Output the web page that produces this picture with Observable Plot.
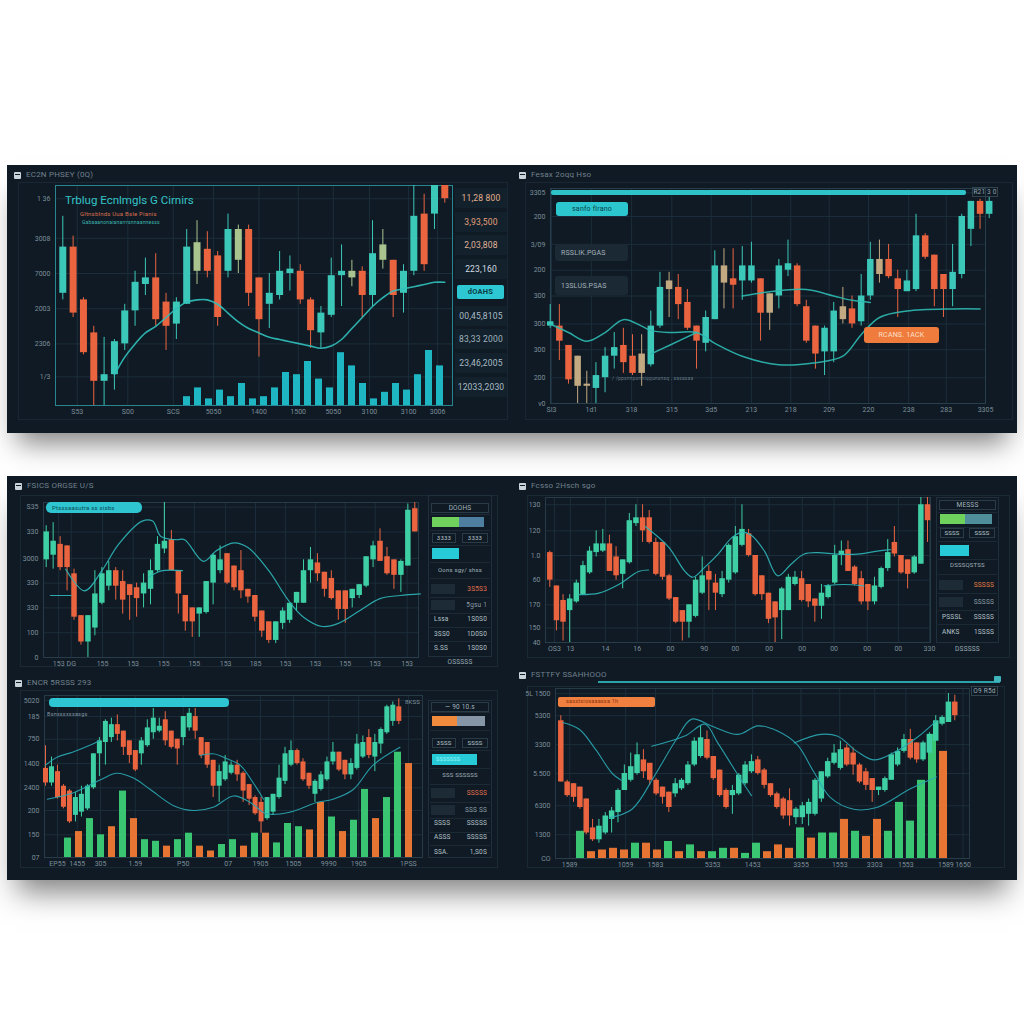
<!DOCTYPE html>
<html><head><meta charset="utf-8">
<script src="https://cdn.jsdelivr.net/npm/d3@7"></script>
<script src="https://cdn.jsdelivr.net/npm/@observablehq/plot@0.6"></script>
<style>
html,body{margin:0;padding:0;background:#fff;}
#page{position:relative;width:1024px;height:1024px;overflow:hidden;background:#fff;font-family:Roboto,"Noto Sans",sans-serif;}
</style></head><body><div id="page"></div>
<script>
// ================= DATA =================
// candles: [open, close, high, low]
const candlesA = [[51,72,86,48],[72,42,77,40],[48,24,49,23],[33,11,36,0],[11,14,31,0],[14,29,30,7],[28,43,46,25],[43,56,61,36],[55,58,67,50],[58,39,69,36],[47,36,51,25],[37,47,49,30],[46,72,80,46],[61,74,84,55],[71,61,79,58],[68,40,70,36],[61,80,87,58],[66,80,82,60],[80,51,82,45],[58,39,58,22],[46,51,60,35],[50,61,70,48],[60,62,68,52],[61,48,64,46],[48,34,49,26],[33,42,45,26],[41,59,67,40],[59,61,73,45],[58,61,66,54],[61,50,63,40],[50,69,84,45],[66,73,80,62],[66,50,66,40],[51,61,64,42],[61,86,100,59],[87,64,96,61],[87,100,100,80],[100,94,100,92]];
const neutralA = [14,18,29,32];
const volumeA = [4,8,3,7,4,10,3,4,8,15,14,20,12,8,24,18,10,3,6,10,7,14,25,18];
const maA = [[6,14],[7,22],[8,28],[9,33],[10,36],[11,40],[12,44],[13,47],[14,48],[15,48],[16,46],[17,42],[18,38],[19,35],[20,33],[21,31],[22,30],[23,29],[24,28],[25,27],[26,26],[27,27],[28,30],[29,35],[30,40],[31,45],[32,49],[33,52],[34,53],[35,54],[36,55],[37,56],[38,56]];
const yTicksA = [94,76,60,44,28,13];
const yLabelsA = ["1 36","3008","7000","2003","2306","1/3"];
const xTicksA = [2.4,7.3,11.7,15.6,20,23.8,27.2,30.7,34.5,37.3];
const xLabelsA = ["S53","S00","SCS","5050","1400","1500","5050","3100","3100","3006"];
const sideValuesA = ["11,28 800","3,93,500","2,03,808","223,160","dOAHS","00,45,8105","83,33 2000","23,46,2005","12033,2030"];

const candlesB = [[36,38,46,35],[36,29,46,20],[27,11,27,9],[8,22,22,0],[8,9,15,0],[7,13,19,0],[12,22,26,5],[22,26,33,16],[27,19,35,14],[22,14,32,13],[14,23,32,8],[18,36,43,17],[36,54,61,35],[53,57,61,40],[54,46,60,39],[47,35,53,34],[36,29,36,16],[28,40,43,24],[39,64,71,39],[64,56,72,44],[58,55,72,44],[57,64,73,48],[57,64,75,56],[58,42,58,29],[51,42,51,34],[50,64,67,44],[62,65,76,59],[64,46,65,45],[45,29,48,28],[36,23,36,16],[24,35,36,13],[24,43,47,19],[39,45,54,37],[44,37,50,35],[38,50,60,36],[50,67,75,48],[60,67,76,56],[67,59,74,58],[58,53,62,40],[52,57,62,52],[53,78,88,52],[78,68,79,67],[69,53,69,45],[60,53,60,40],[53,61,74,45],[60,87,88,58],[81,94,94,73],[94,88,95,81],[88,94,96,86]];
const neutralB = [4,5,11,14,20,25,33,37];
const maB1 = [[1,37],[3,33],[5,29],[7,33],[9,39],[11,36],[12,34],[14,33],[17,33],[19,28],[22,22],[26,18],[30,19],[33,22],[35,32],[37,40],[40,43],[45,44],[48,44]];
const maB2 = [[22,50],[25,52],[29,53],[32,50],[34,48],[36,47]];
const maB3 = [[12,23],[14,27],[17,33]];
const yTicksB = [98,87,74,62,50,37,25,12,0];
const yLabelsB = ["3305","200","3/09","200","300","300","300","200","v0"];
const xTicksB = [1.14,5.5,9.9,14.3,18.6,23,27.3,31.5,35.8,40.2,44.3,48.6];
const xLabelsB = ["SI3","1d1","318","315","3d5","213","218","209","220","238","283","3305"];

const candlesC = [[63,81,85,58],[66,75,87,57],[73,58,78,56],[72,58,72,43],[54,26,57,24],[27,10,27,8],[10,27,27,0],[19,41,56,14],[35,54,58,34],[46,56,62,43],[56,46,58,37],[49,37,56,28],[47,40,47,24],[45,38,48,26],[41,48,54,32],[44,56,63,34],[56,73,78,55],[70,75,100,67],[76,56,82,56],[56,41,56,28],[40,23,40,17],[32,23,32,13],[28,32,32,13],[29,49,49,28],[48,66,67,34],[56,63,72,54],[67,48,67,47],[59,45,59,43],[56,43,69,38],[44,39,44,35],[40,26,40,23],[30,17,30,13],[23,11,23,9],[11,23,23,9],[22,30,32,18],[24,35,35,22],[35,42,42,30],[35,56,63,35],[56,63,71,48],[61,54,67,49],[55,44,55,39],[51,38,56,37],[43,31,43,24],[43,31,43,22],[38,44,44,32],[40,47,47,38],[46,65,65,45],[63,72,75,58],[75,62,83,62],[65,54,71,53],[63,53,63,44],[53,62,63,42],[59,95,99,59],[96,81,100,81]];
const maC1 = [[3.8,57],[6.5,43],[9,56],[11.4,73],[14.8,88],[16.3,88],[17.5,78],[19.7,76],[20.9,76],[23.6,62],[25.5,69],[28,74],[30,71],[33,56],[35.8,37],[38,26],[40.7,20],[43,22],[46,30],[49,38],[51.9,40],[54.8,41]];
const maC2 = [[1.6,40],[4.6,40]];
const maC3 = [[15.8,52],[17.7,56],[20.6,56]];
const yTicksC = [97,81,64,48,32,16,0];
const yLabelsC = ["S35","330","3000","330","330","100","0"];
const xTicksC = [2.8,4.6,9.1,13.5,17.9,22.3,26.8,31.1,35.4,39.7,44,48.3,52.9];
const xLabelsC = ["153","DG","155","153","155","155","153","185","153","153","155","153","153"];

const candlesD = [[62,43,63,38],[39,15,39,8],[29,14,33,1],[22,30,33,0],[28,41,43,27],[33,53,56,33],[48,63,66,47],[62,68,77,59],[63,68,78,62],[68,49,74,49],[59,46,66,43],[47,57,57,37],[55,84,89,54],[82,86,95,80],[86,77,95,69],[86,69,91,68],[69,47,72,46],[69,45,69,43],[46,30,47,29],[31,14,31,13],[22,14,22,1],[14,26,26,3],[18,43,45,17],[34,46,59,33],[49,43,53,22],[41,34,47,22],[33,44,49,31],[43,67,68,41],[48,73,80,47],[67,78,95,66],[75,60,78,59],[60,33,60,32],[46,33,46,29],[34,16,34,13],[28,17,28,0],[22,37,38,2],[22,45,47,22],[40,45,49,39],[44,29,49,28],[40,28,40,24],[30,25,30,14],[25,34,40,16],[31,39,40,30],[41,60,67,40],[60,63,70,53],[64,49,70,49],[52,40,53,39],[44,28,49,26],[40,28,40,22],[28,39,45,26],[38,51,52,37],[51,62,71,49],[69,61,80,59],[60,48,60,47],[57,47,57,37],[48,59,60,47],[54,95,100,54],[95,84,100,69]];
const maD1 = [[15.4,80],[18.9,66],[21.4,49],[22.6,45],[24.4,52],[26.4,61],[28.4,72],[29.9,76],[31.4,74],[33.4,63],[35.4,46],[37.4,54],[39.4,61],[41.4,62],[44.4,61],[47.4,61],[50.4,63],[52.4,64]];
const maD2 = [[5.4,33],[8.4,34],[11.4,40],[14.4,49],[15.9,50]];
const maD3 = [[42.4,39],[45.4,40],[48.4,39]];
const yTicksD = [95,77,60,43,26,10,0];
const yLabelsD = ["130","120","1.0","60","170","150","40"];
const xTicksD = [1.7,4.1,9.4,14.2,19.2,24.3,29,34.1,39.1,43.9,48.9,53.6,58.3];
const xLabelsD = ["OS3","13","14","16","00","90","00","00","00","00","00","00","330"];

const candlesE = [[55,46,69,44],[46,56,62,44],[53,37,57,36],[44,31,45,30],[41,22,42,21],[26,37,40,22],[28,39,44,25],[30,44,45,29],[43,64,64,42],[64,72,74,50],[71,84,85,57],[74,82,86,71],[82,76,88,72],[78,68,78,63],[72,63,72,58],[66,54,66,53],[64,72,74,57],[69,80,85,68],[77,86,92,73],[78,81,86,77],[85,72,90,69],[78,68,78,67],[73,67,73,57],[74,87,87,69],[80,89,92,78],[87,78,92,73],[74,63,74,61],[71,57,71,55],[60,44,60,37],[44,53,57,34],[48,59,63,47],[52,57,59,51],[57,51,60,47],[52,41,53,34],[45,36,45,32],[37,27,38,26],[34,22,37,15],[24,37,37,23],[28,39,39,26],[37,49,57,36],[47,64,68,45],[57,66,72,56],[66,58,67,57],[59,48,61,47],[52,44,52,42],[39,47,48,34],[42,51,53,41],[48,59,62,47],[59,65,71,57],[65,54,65,53],[60,51,60,48],[51,58,61,48],[55,70,76,54],[62,71,75,61],[74,63,79,61],[62,71,76,53],[70,79,80,64],[77,93,94,76],[84,94,96,81],[93,84,98,82]];
const volumeE = [12,16,24,14,19,41,24,11,10,7,11,15,7,4,8,11,7,15,15,9,21,19,17,34,25,16,23,42,24,37,65,58];
const volumeKindE = ["g","o","g","g","o","g","o","g","g","o","g","g","o","o","g","g","o","g","o","g","g","g","o","o","g","o","g","g","o","g","g","o"];
const maE1 = [[1,57],[3,62],[5.5,65],[8.9,70],[10,72]];
const maE2 = [[1.3,36],[5.7,40],[10.2,48],[12.9,52],[15.7,49],[18.5,42],[22.4,32],[25.7,29],[29,31],[32.4,38],[35.2,34],[37.9,27],[41.8,28],[46.3,34],[49,36],[52.4,42],[55.7,57],[60.2,68]];
const maE3 = [[26.8,63],[29,64],[31.3,61],[33.5,57],[35.7,46],[37.4,36]];
const yTicksE = [97,87,73,58,43,29,14,0];
const yLabelsE = ["5020","185","750","1400","2400","200","150","07"];
const xTicksE = [3,6.3,10.2,16,24,31.5,36.9,42.4,48.3,53.3,61.6];
const xLabelsE = ["EP55","1455","305","1.59","P50","07","1905","1505","9990","1905","1PSS"];

const candlesF = [[81,45,84,45],[45,37,46,36],[44,36,44,33],[42,30,42,29],[35,15,35,14],[18,11,23,10],[11,19,23,9],[15,25,27,14],[23,28,30,15],[27,40,41,21],[40,50,55,40],[46,54,62,45],[50,61,68,49],[58,51,64,47],[56,46,56,43],[46,38,47,37],[42,36,42,32],[39,30,39,27],[38,44,47,36],[41,46,47,40],[44,55,57,43],[55,69,71,54],[60,71,78,59],[70,59,75,58],[60,47,60,46],[52,37,52,36],[40,30,41,29],[37,40,43,26],[38,49,50,37],[44,55,57,43],[51,57,61,50],[58,50,60,49],[52,43,53,41],[44,37,44,36],[38,30,39,29],[35,25,36,23],[34,25,41,19],[24,29,30,20],[24,31,33,20],[26,33,35,19],[26,46,47,25],[35,51,51,33],[48,57,59,47],[56,62,67,55],[53,64,69,52],[65,55,67,54],[62,55,65,49],[55,45,56,44],[51,43,53,40],[47,40,47,33],[40,42,42,37],[40,47,48,39],[46,61,62,46],[55,63,65,54],[63,70,73,62],[70,59,76,58],[68,58,68,56],[58,68,69,57],[62,73,74,61],[69,81,84,69],[79,83,84,78],[80,92,97,80],[92,84,96,81]];
const volumeF = [16,4,5,6,5,9,9,5,10,4,8,4,4,6,6,3,9,4,8,6,18,12,15,15,23,16,13,23,16,33,22,46,73,63];
const volumeKindF = ["g","o","o","o","o","g","o","o","g","o","g","o","g","g","o","g","g","o","o","o","g","o","g","g","o","g","o","o","g","g","g","g","g","o"];
const maF1 = [[1.3,80],[3.9,76],[6.5,64],[9.1,50],[10.5,46]];
const maF2 = [[8.6,24],[12.2,29],[15.8,49],[19,69],[21.6,82],[24.7,78],[28.9,73],[32,78],[35.1,75],[38.2,67],[40.8,51],[43.4,36],[47.1,29],[50.7,30],[56,41],[60.1,48]];
const maF3 = [[15.3,66],[20.5,72],[23.7,79],[25.7,68],[28.9,49],[31,37]];
const maF4 = [[37.7,68],[41.9,73],[44.5,72],[47.6,63],[50.2,58],[53.3,62],[57,71],[60.1,81]];
const yTicksF = [97,84,67,50,31,14,0];
const yLabelsF = ["5L 1500","5300","3300","5.500","6300","1300","CO"];
const xTicksF = [2.4,11.2,15.9,24.9,31.2,38.8,44.9,50.4,55.3,61.6,64.3];
const xLabelsF = ["1589","1059","1583","5353","1453","3355","1553","3303","1553","1589","1650"];

// ================= HELPERS =================
const page = document.getElementById("page");
function box(x, y, w, h, css = {}, parent = page) {
  const e = document.createElement("div");
  Object.assign(e.style, {position: "absolute", left: x + "px", top: y + "px", width: w + "px", height: h + "px", boxSizing: "border-box"}, css);
  parent.appendChild(e);
  return e;
}
function txt(x, y, s, css = {}, align = "left") {
  const e = document.createElement("div");
  const tr = align === "center" ? "translate(-50%,-50%)" : align === "right" ? "translate(-100%,-50%)" : "translateY(-50%)";
  Object.assign(e.style, {position: "absolute", left: x + "px", top: y + "px", whiteSpace: "nowrap", lineHeight: "1", transform: tr, fontSize: "7px", color: "#8a9ba7", letterSpacing: "0.2px"}, css);
  e.textContent = s;
  page.appendChild(e);
  return e;
}
function place(node, x, y) {
  node.style.position = "absolute";
  node.style.left = x + "px";
  node.style.top = y + "px";
  page.appendChild(node);
}
function title(ix, iy, s) {
  box(ix, iy - 3, 7, 7, {background: "#c9d3da", borderRadius: "1px"});
  box(ix + 1, iy - 1, 5, 1, {background: "#0f1a24"});
  txt(ix + 12, iy, s, {fontSize: "8px", color: "#6f808c"});
}

const UP = "#3ecfa4", UPT = "#3cc8b9", DN = "#ea6440";

function drawPanel(P) {
  const L = P.L;
  const n = P.candles.length;
  const rows = P.candles.map((c, k) => ({i: k + 1, o: c[0], c: c[1], h: c[2], l: c[3]}));
  const col = r => (P.neutral && P.neutral.includes(r.i)) ? L.neutral : (r.c >= r.o ? L.up : L.down);
  const k = (L.xn - L.x1) / (n - 1);
  const dom = [1 - (L.x1 - L.fl) / k, n + (L.fr - L.xn) / k];
  const sx = L.fl - 44, sy = L.ft - 8, sw = L.fr - sx + 16, sh = L.fb - sy + 18;
  const dims = {width: sw, height: sh, marginLeft: L.fl - sx, marginRight: sx + sw - L.fr, marginTop: L.ft - sy, marginBottom: sy + sh - L.fb};
  const style = {background: "transparent", color: "#7d8e9a", fontSize: "7px", fontFamily: "Roboto, sans-serif", overflow: "visible"};
  const yMap = new Map(P.yTicks.map((v, j) => [v, P.yLabels[j]]));
  const xMap = new Map(P.xTicks.map((v, j) => [v, P.xLabels[j]]));
  // layer 1: grid + axes
  const base = Plot.plot({
    ...dims, style,
    x: {domain: dom, ticks: P.xTicks, tickFormat: v => xMap.get(v) ?? "", tickSize: 0, tickPadding: 4, label: null},
    y: {domain: [0, 100], ticks: P.yTicks, tickFormat: v => yMap.get(v) ?? "", tickSize: 0, tickPadding: 5, label: null},
    marks: [
      Plot.ruleX(P.xTicks, {stroke: "#1c2e3b", strokeWidth: 1}),
      Plot.ruleY(P.yTicks, {stroke: "#1c2e3b", strokeWidth: 1}),
      Plot.frame({stroke: L.frame, strokeOpacity: L.frameOp})
    ]
  });
  place(base, sx, sy);
  // layer 2: volume
  if (P.vol) {
    const nv = P.vol.length, V = L.vol;
    const s = (V.cn - V.c1) / (nv - 1), p = 1 - V.w / s;
    const r0 = V.c1 - s * (1 + p) / 2 - sx, r1 = V.cn + s * (1 + p) / 2 - sx;
    const vrows = P.vol.map((v, j) => ({j, v, c: P.volKind ? (P.volKind[j] === "g" ? "#3dcf78" : "#f27a36") : L.volColor}));
    const vp = Plot.plot({
      ...dims, style,
      color: {type: "identity"},
      x: {type: "band", domain: d3.range(nv), range: [r0, r1], padding: p, axis: null},
      y: {domain: [0, 100], axis: null},
      marks: [Plot.barY(vrows, {x: "j", y: "v", fill: "c", fillOpacity: 0.95})]
    });
    place(vp, sx, sy);
  }
  // layer 3: candles + moving averages
  const marks = [
    Plot.ruleX(rows, {x: "i", y1: "l", y2: "h", stroke: col, strokeWidth: 1}),
    Plot.ruleX(rows, {x: "i", y1: "o", y2: "c", stroke: col, strokeWidth: L.bw})
  ];
  for (const m of P.mas) marks.push(Plot.line(m, {x: q => q[0], y: q => q[1], curve: "catmull-rom", stroke: L.ma, strokeWidth: L.maW, strokeOpacity: 0.9}));
  const cp = Plot.plot({
    ...dims, style,
    color: {type: "identity"},
    x: {domain: dom, axis: null},
    y: {domain: [0, 100], axis: null},
    marks
  });
  place(cp, sx, sy);
}

// ================= BANNERS =================
box(7, 165, 1010, 268, {background: "#0f1a24", boxShadow: "0 20px 26px -10px rgba(0,0,0,0.5)"});
box(7, 476, 1010, 404, {background: "#0f1a24", boxShadow: "0 22px 28px -10px rgba(0,0,0,0.5)"});
// panel outlines
box(18, 182, 490, 238, {border: "1px solid #182733"});
box(525, 182, 488, 238, {border: "1px solid #182733"});
box(20, 495, 478, 172, {border: "1px solid #1a2a35"});
box(527, 495, 483, 163, {border: "1px solid #1a2a35"});
box(20, 690, 478, 178, {border: "1px solid #1a2a35"});
box(527, 686, 478, 182, {border: "1px solid #1a2a35"});

title(14, 175, "EC2N PHSEY (0Q)");
title(519, 175, "Fesax 2oqq Hso");
title(15, 486, "FSICS ORGSE U/S");
title(519, 486, "Fcsso 2Hsch sgo");
title(15, 683, "ENCR 5RSSS 293");
title(519, 675, "FSTTFY SSAHHOOO");

// ================= PANELS =================
drawPanel({candles: candlesA, neutral: neutralA, vol: volumeA, mas: [maA], yTicks: yTicksA, yLabels: yLabelsA, xTicks: xTicksA, xLabels: xLabelsA,
  L: {fl: 55, fr: 452, ft: 185, fb: 405, x1: 62.3, xn: 444.3, bw: 7, up: UPT, down: DN, neutral: "#a9c48e", ma: "#31c0bb", maW: 1.6, frame: "#2b9aa3", frameOp: 0.85, volColor: "#1fbfcb", vol: {c1: 182.7, cn: 444, w: 7}}});
drawPanel({candles: candlesB, neutral: neutralB, mas: [maB1, maB2, maB3], yTicks: yTicksB, yLabels: yLabelsB, xTicks: xTicksB, xLabels: xLabelsB,
  L: {fl: 550, fr: 985, ft: 188, fb: 403, x1: 549.7, xn: 988.7, bw: 6.5, up: UPT, down: DN, neutral: "#c2a982", ma: "#2fbab3", maW: 1.5, frame: "#2a4150", frameOp: 0.9}});
drawPanel({candles: candlesC, mas: [maC1, maC2, maC3], yTicks: yTicksC, yLabels: yLabelsC, xTicks: xTicksC, xLabels: xLabelsC,
  L: {fl: 43, fr: 418, ft: 502, fb: 657, x1: 45.7, xn: 414.3, bw: 5.5, up: UP, down: DN, ma: "#2fb6b8", maW: 1.2, frame: "#2a3e4b", frameOp: 0.9}});
drawPanel({candles: candlesD, mas: [maD1, maD2, maD3], yTicks: yTicksD, yLabels: yLabelsD, xTicks: xTicksD, xLabels: xLabelsD,
  L: {fl: 545, fr: 930, ft: 497, fb: 642, x1: 549.3, xn: 927, bw: 5.5, up: UP, down: DN, ma: "#2fb6b8", maW: 1.2, frame: "#2a3e4b", frameOp: 0.9}});
drawPanel({candles: candlesE, vol: volumeE, volKind: volumeKindE, mas: [maE1, maE2, maE3], yTicks: yTicksE, yLabels: yLabelsE, xTicks: xTicksE, xLabels: xLabelsE,
  L: {fl: 44, fr: 422, ft: 695, fb: 857, x1: 45, xn: 398.3, bw: 5, up: UP, down: DN, ma: "#2aa9b4", maW: 1.1, frame: "#2a3e4b", frameOp: 0.9, vol: {c1: 60, cn: 415.7, w: 7.3}}});
drawPanel({candles: candlesF, vol: volumeF, volKind: volumeKindF, mas: [maF1, maF2, maF3, maF4], yTicks: yTicksF, yLabels: yLabelsF, xTicks: xTicksF, xLabels: xLabelsF,
  L: {fl: 555, fr: 969, ft: 688, fb: 858, x1: 560.3, xn: 954.3, bw: 5.5, up: UP, down: DN, ma: "#2aa9b4", maW: 1.1, frame: "#2a3e4b", frameOp: 0.9, vol: {c1: 566, cn: 958, w: 9}}});

// ================= DECORATIONS =================
// Panel A inner title
txt(65, 201, "Trblug  Ecnlmgls G Cirnirs", {fontSize: "11.5px", color: "#34c3c6", letterSpacing: "0px"});
txt(80, 214, "Gltnsblnds  Uua   BsIe Pianis", {fontSize: "6px", color: "#d9704f"});
txt(82, 222, "Gabaaanonaianarrrsnnaannesss", {fontSize: "5px", color: "#3cb5ad"});
// Panel A side values
const sideYA = [198, 222, 245, 269, 292, 316, 339, 363, 387];
const sideColA = ["#e3b08c", "#e5a07a", "#e0b49a", "#d5dde2", "#0b3b45", "#a9bcc6", "#9fb4bf", "#a9bcc6", "#a9bcc6"];
sideValuesA.forEach((s, j) => {
  const y = sideYA[j];
  if (j === 4) {
    box(457, y - 7, 47, 14, {background: "#2cc7d2", borderRadius: "2px"});
    txt(480.5, y, s, {fontSize: "7.5px", color: sideColA[j], fontWeight: "bold"}, "center");
  } else {
    box(455, y - 10, 52, 20, {background: "#13212c"});
    txt(481, y, s, {fontSize: "8.5px", color: sideColA[j]}, "center");
  }
});

// Panel B decorations
box(551, 190, 415, 5, {background: "#2ec3c9", borderRadius: "2px"});
box(972, 187, 26, 10, {border: "1px solid #33434e"});
txt(985, 192, "R21 3 0", {fontSize: "6.5px", color: "#8fa0ab"}, "center");
box(556, 202, 72, 14, {background: "#2cc6cf", borderRadius: "3px"});
txt(592, 209, "sanfo flrano", {fontSize: "7px", color: "#0a4248"}, "center");
box(555, 244, 73, 17, {background: "#1b2934", borderRadius: "3px"});
txt(561, 252.5, "RSSLIK.PGAS", {fontSize: "7px", color: "#a3b2bc"});
box(555, 276, 73, 19, {background: "#1b2934", borderRadius: "3px"});
txt(561, 285.5, "13SLUS.PSAS", {fontSize: "7px", color: "#a3b2bc"});
box(864, 327, 75, 16, {background: "#ef7b3c", borderRadius: "3px"});
txt(901.5, 335, "RCANS. 1ACK", {fontSize: "7px", color: "#fde0cc"}, "center");
txt(612, 378, "/ /ppsnnpsnniqqunsnsq ,   sasasaa", {fontSize: "5px", color: "#617481"});

// Panel C decorations
box(46, 502, 96, 11, {background: "#2ec4d0", borderRadius: "5px"});
txt(52, 507.5, "Ptsssaasutra ss sisbs", {fontSize: "6px", color: "#0b4a55"});

// Panel E decorations
box(49, 698, 180, 9, {background: "#2dc6d2", borderRadius: "4px"});
txt(47, 715, "Bsnxssxssasgs", {fontSize: "5.5px", color: "#8193a0"});
txt(405, 702, "8KSS", {fontSize: "6px", color: "#8193a0"});

// Panel F decorations
box(598, 681, 402, 2, {background: "#2aa3ab"});
box(994, 676, 7, 6, {background: "#3fb4bc", borderRadius: "1px"});
box(971, 686, 27, 10, {border: "1px solid #33434e"});
txt(984.5, 691, "O9 R5d", {fontSize: "6.5px", color: "#98a8b2"}, "center");
box(558, 697, 97, 10, {background: "#f0803f", borderRadius: "2px"});
txt(566, 702, "sasstsiosaaassa 1h", {fontSize: "5.5px", color: "#8a3412"});

// ================= SIDE PANELS (C, D, E) =================
function sideRows(x0, x1, spec) {
  const w = x1 - x0, cx = (x0 + x1) / 2;
  box(x0 - 4, spec.top, w + 8, spec.bottom - spec.top, {border: "1px solid #1f303c"});
  spec.seps.forEach(y => box(x0 - 2, y, w + 4, 1, {background: "#1b2a35"}));
  box(x0 - 1, spec.head - 5, w + 2, 10, {border: "1px solid #2a3c48"});
  txt(cx, spec.head, spec.headText, {fontSize: "6.5px", color: "#a4b4be"}, "center");
  const b = spec.bar;
  box(x0, b.y, b.split - x0, 10, {background: b.c1});
  box(b.split, b.y, b.end - b.split, 10, {background: b.c2});
  box(x0, spec.pair - 5, 24, 10, {border: "1px solid #2a3c48"});
  box(x1 - 26, spec.pair - 5, 26, 10, {border: "1px solid #2a3c48"});
  txt(x0 + 12, spec.pair, spec.pairText[0], {fontSize: "6px", color: "#b8c6cf"}, "center");
  txt(x1 - 13, spec.pair, spec.pairText[1], {fontSize: "6px", color: "#b8c6cf"}, "center");
  box(x0, spec.chip - 5, spec.chipW, 11, {background: "#27cbd8"});
  if (spec.chipText) txt(x0 + 4, spec.chip + 0.5, spec.chipText, {fontSize: "5.5px", color: "#9ff3f7"});
  txt(cx, spec.note, spec.noteText, {fontSize: "6px", color: "#a0b0ba"}, "center");
  box(x0 - 1, spec.d1 - 5, 24, 10, {background: "#1c2b36"});
  txt(x1 - 1, spec.d1, spec.d1Text, {fontSize: "6.5px", color: spec.d1Color}, "right");
  box(x0 - 1, spec.d2 - 5, 24, 10, {background: "#1c2b36"});
  txt(x1 - 1, spec.d2, spec.d2Text, {fontSize: "6.5px", color: "#8c9da8"}, "right");
  spec.pairs.forEach(([y, a, c]) => {
    txt(x0 + 2, y, a, {fontSize: "6.5px", color: "#b3c1ca"});
    txt(x1 - 1, y, c, {fontSize: "6.5px", color: "#b3c1ca"}, "right");
  });
  txt(cx, spec.foot, spec.footText, {fontSize: "6.5px", color: "#9aabb6"}, "center");
}
sideRows(432, 488, {top: 495, bottom: 657, seps: [514, 530, 545, 562, 578, 597, 613, 627, 641],
  head: 507.5, headText: "DOOHS", bar: {y: 516.5, split: 459, end: 484, c1: "#6ed25c", c2: "#4f7fa0"},
  pair: 538, pairText: ["3333", "3333"], chip: 553, chipW: 27, note: 570, noteText: "Oons sgy/ shss",
  d1: 589, d1Text: "3S5S3", d1Color: "#e0704e", d2: 605, d2Text: "5gsu 1",
  pairs: [[619, "Lssa", "1S0S0"], [634, "3SS0", "1D0S0"], [648, "S.SS", "1S0S0"]], foot: 662, footText: "OSSSSS"});
sideRows(940, 995, {top: 497, bottom: 643, seps: [512, 527, 541, 559, 574, 593, 610, 624],
  head: 505, headText: "MESSS", bar: {y: 513.5, split: 965, end: 992, c1: "#6ed25c", c2: "#4f8f9c"},
  pair: 533, pairText: ["SSSS", "SSSS"], chip: 550, chipW: 29, note: 565, noteText: "DSSSQSTSS",
  d1: 585, d1Text: "SSSSS", d1Color: "#e37a44", d2: 602, d2Text: "SSSSS",
  pairs: [[617, "PSSSL", "SSSSS"], [632, "ANKS", "1SSSS"]], foot: 649, footText: "DSSSSS"});
sideRows(432, 488, {top: 700, bottom: 858, seps: [712, 730, 750, 768, 784, 802, 818, 832, 845],
  head: 707, headText: "— 90   10.s", bar: {y: 715.5, split: 457, end: 485, c1: "#f08a3c", c2: "#8796a6"},
  pair: 743, pairText: ["3SSS", "SSSS"], chip: 759, chipW: 45, chipText: "SSSSSSS", note: 775, noteText: "SSS SSSSSS",
  d1: 793, d1Text: "SSSSS", d1Color: "#e0704e", d2: 810, d2Text: "SSS SS",
  pairs: [[823, "SSSS", "SSSSS"], [837, "ASSS", "SSSSS"], [852, "SSA.", "1,S0S"]], foot: 866, footText: ""});
</script></body></html>
